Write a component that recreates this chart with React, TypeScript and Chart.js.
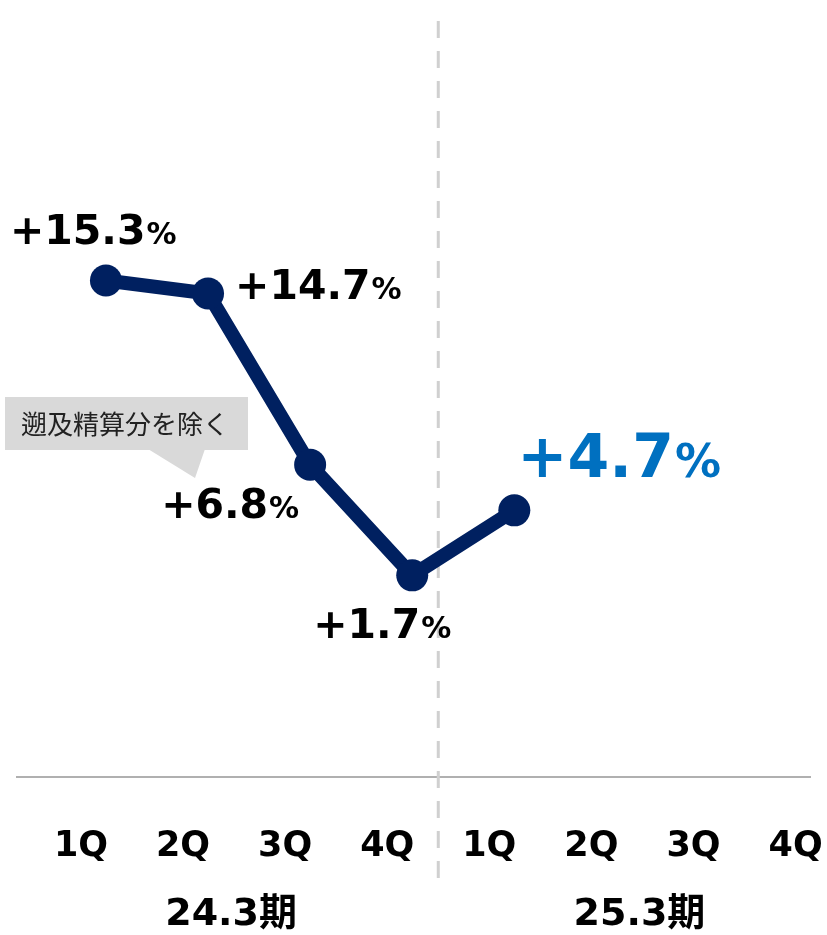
import React, { useEffect, useRef } from "react";
import { Chart, registerables } from "chart.js";

Chart.register(...registerables);

const QUARTER_LABELS = ["1Q", "2Q", "3Q", "4Q", "1Q", "2Q", "3Q", "4Q"];
const PERIOD_LABELS = ["24.3期", "25.3期"];
const GROWTH_VALUES = [15.3, 14.7, 6.8, 1.7, 4.7];
const VALUE_TEXT = ["+15.3", "+14.7", "+6.8", "+1.7", "+4.7"];
const CALLOUT_TEXT = "遡及精算分を除く";

const NAVY = "#002060";
const BLUE = "#0070c0";
const LABEL_OFF = -25;
const FONT = "'DejaVu Sans', 'Noto Sans CJK JP', sans-serif";

// label placement relative to each point (layout only)
const LABEL_POS = [
  { dx: -96, dy: -37, big: 41, pct: 30, color: "#000" },
  { dx: 27, dy: 5, big: 41, pct: 30, color: "#000" },
  { dx: -149, dy: 53, big: 41, pct: 30, color: "#000" },
  { dx: -99, dy: 63, big: 41, pct: 30, color: "#000" },
  { dx: 3, dy: -33, big: 60, pct: 46, color: BLUE },
];

const overlay = {
  id: "overlay",
  beforeDatasetsDraw(chart: any) {
    const ctx = chart.ctx;
    const xs = chart.scales.x;
    const area = chart.chartArea;
    ctx.save();
    // baseline
    ctx.strokeStyle = "#b0b0b0";
    ctx.lineWidth = 2;
    ctx.beginPath();
    ctx.moveTo(area.left, area.bottom);
    ctx.lineTo(area.right, area.bottom);
    ctx.stroke();
    // dashed separator
    const sx = xs.getPixelForValue(3.5) + LABEL_OFF;
    ctx.strokeStyle = "#d0d0d0";
    ctx.lineWidth = 3;
    ctx.setLineDash([17, 13]);
    ctx.beginPath();
    ctx.moveTo(sx, area.top + 5);
    ctx.lineTo(sx, 880);
    ctx.stroke();
    ctx.restore();
  },
  afterDraw(chart: any) {
    const ctx = chart.ctx;
    const xs = chart.scales.x;
    const area = chart.chartArea;
    const meta = chart.getDatasetMeta(0);
    ctx.save();
    ctx.fillStyle = "#000";
    ctx.textAlign = "center";
    ctx.textBaseline = "middle";
    // quarter labels
    ctx.font = `bold 35px ${FONT}`;
    QUARTER_LABELS.forEach((t, i) => {
      ctx.fillText(t, xs.getPixelForValue(i) + LABEL_OFF, area.bottom + 70);
    });
    // period labels
    ctx.font = `bold 38px ${FONT}`;
    PERIOD_LABELS.forEach((t, i) => {
      ctx.fillText(t, xs.getPixelForValue(1.5 + i * 4) + LABEL_OFF - 3, area.bottom + 138);
    });
    // value labels
    ctx.textAlign = "left";
    ctx.textBaseline = "alphabetic";
    meta.data.forEach((pt: any, i: number) => {
      const p = LABEL_POS[i];
      const x = pt.x + p.dx;
      const y = pt.y + p.dy;
      ctx.fillStyle = p.color;
      ctx.font = `bold ${p.big}px ${FONT}`;
      ctx.fillText(VALUE_TEXT[i], x, y);
      const w = ctx.measureText(VALUE_TEXT[i]).width;
      ctx.font = `bold ${p.pct}px ${FONT}`;
      ctx.fillText("%", x + w + 1, y);
    });
    // callout
    ctx.fillStyle = "#d9d9d9";
    ctx.fillRect(5, 397, 243, 53);
    ctx.beginPath();
    ctx.moveTo(148, 449);
    ctx.lineTo(205, 449);
    ctx.lineTo(195, 478);
    ctx.closePath();
    ctx.fill();
    ctx.fillStyle = "#222";
    ctx.font = `26px 'Noto Sans CJK JP', sans-serif`;
    ctx.textAlign = "center";
    ctx.textBaseline = "middle";
    ctx.fillText(CALLOUT_TEXT, 125, 424);
    ctx.restore();
  },
};

export default function App() {
  const ref = useRef<HTMLCanvasElement | null>(null);
  useEffect(() => {
    if (!ref.current) return;
    const chart = new Chart(ref.current, {
      type: "line",
      data: {
        datasets: [
          {
            data: GROWTH_VALUES.map((v, i) => ({ x: i, y: v })),
            borderColor: NAVY,
            backgroundColor: NAVY,
            borderWidth: 14,
            pointRadius: 16,
            pointBackgroundColor: NAVY,
            pointBorderWidth: 0,
            tension: 0,
            clip: false as any,
          },
        ],
      },
      options: {
        responsive: false,
        animation: false,
        layout: { padding: { left: 13, right: 10, top: 10, bottom: 158 } },
        plugins: { legend: { display: false }, tooltip: { enabled: false } },
        scales: {
          x: {
            type: "linear",
            display: false,
            min: -0.881,
            max: 6.906,
          },
          y: {
            display: false,
            min: -7.6,
            max: 27.5,
          },
        },
      },
      plugins: [overlay],
    });
    return () => chart.destroy();
  }, []);
  return (
    <div style={{ position: "absolute", left: 0, top: 0, width: 827, height: 935, background: "#fff" }}>
      <canvas ref={ref} width={827} height={935} />
    </div>
  );
}
